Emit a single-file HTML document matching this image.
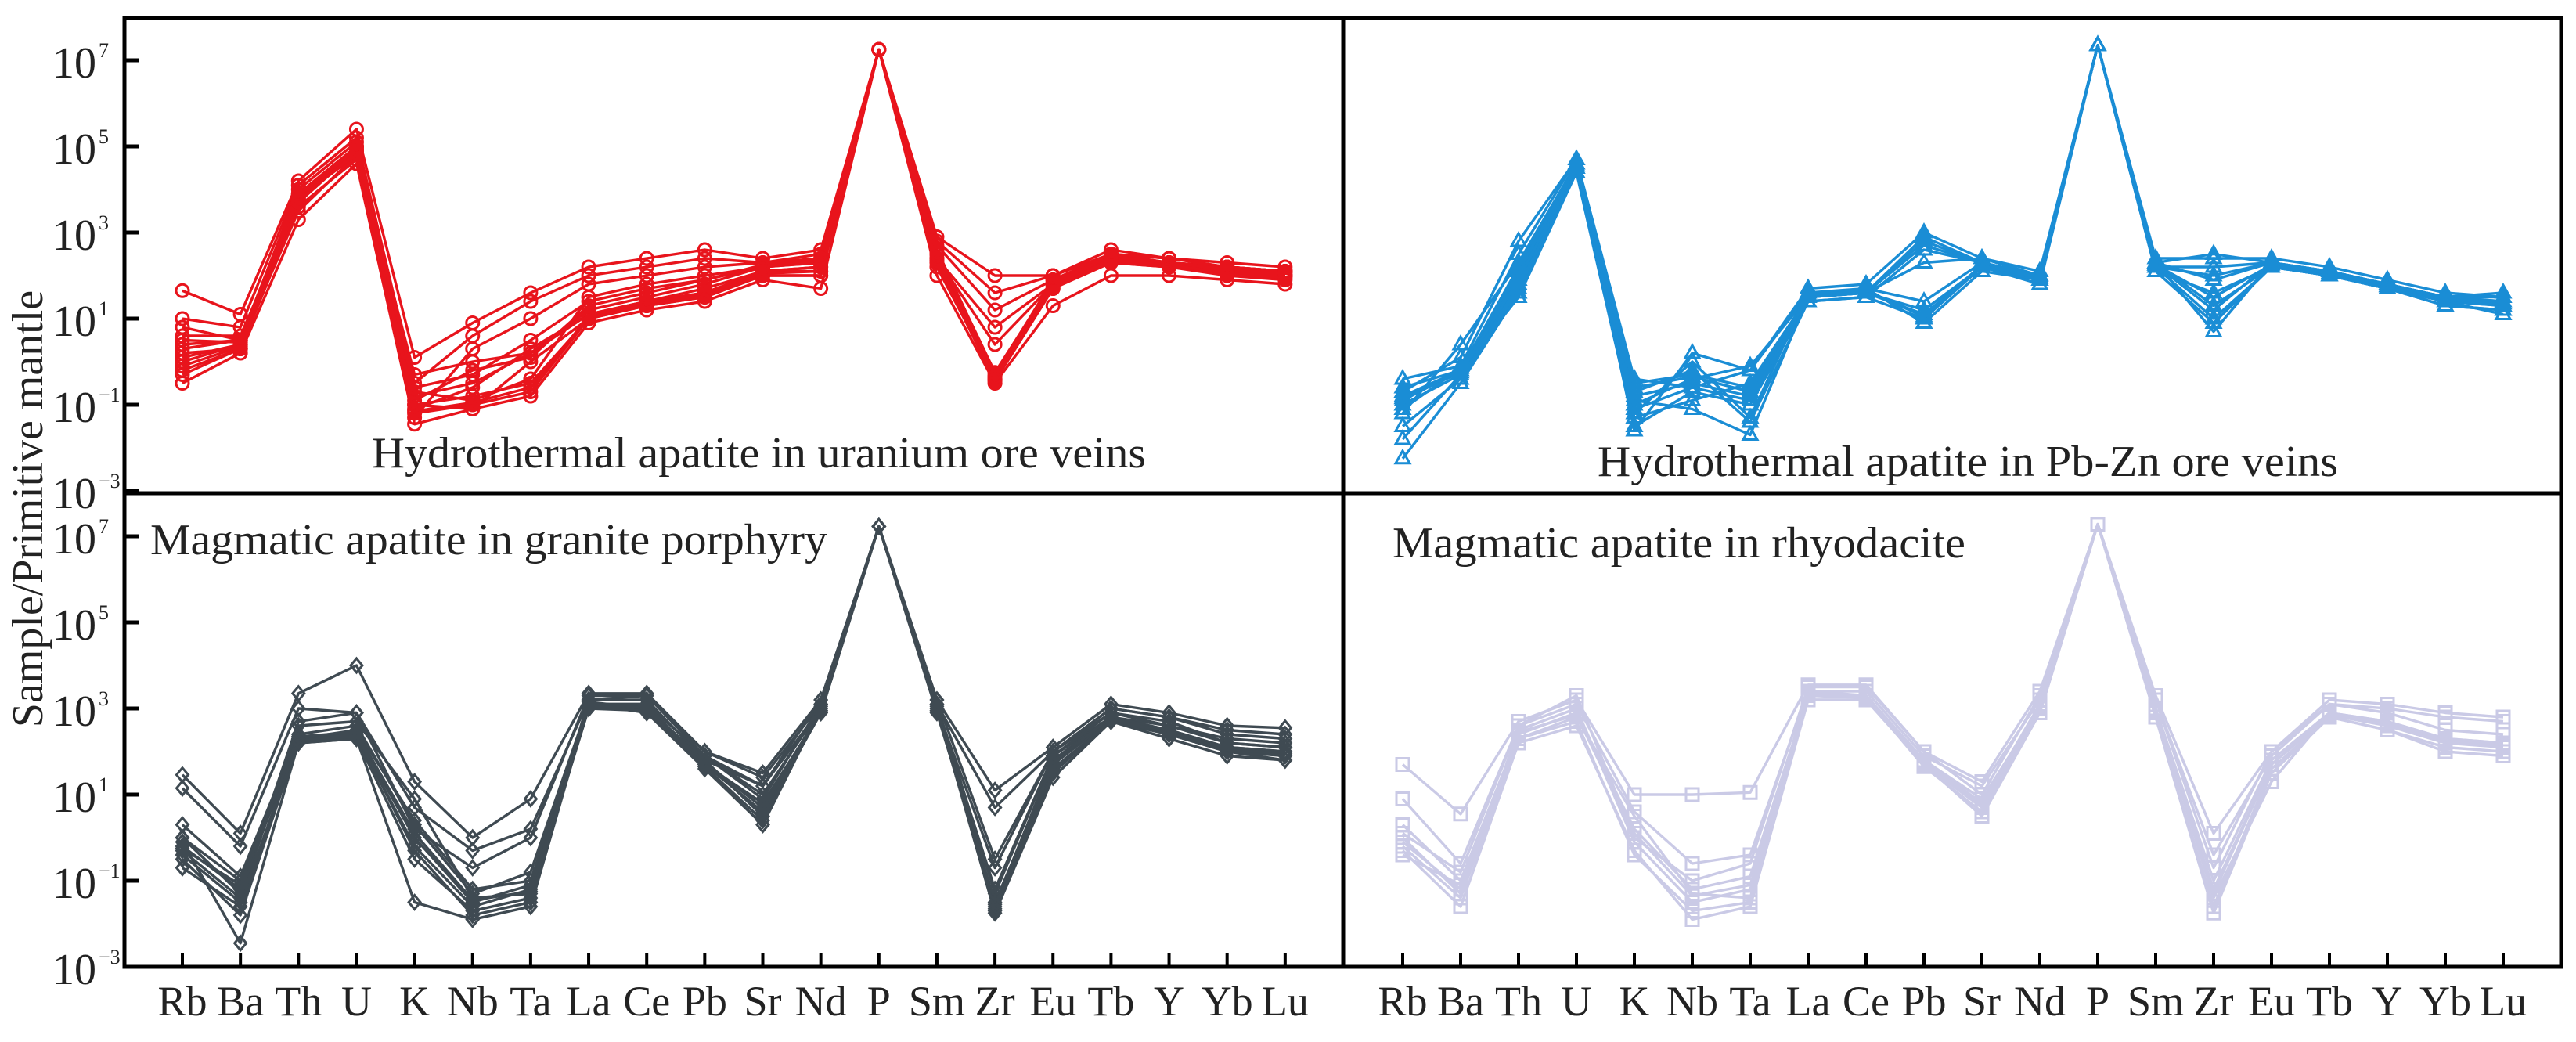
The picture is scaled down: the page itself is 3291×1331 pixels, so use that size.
<!DOCTYPE html>
<html><head><meta charset="utf-8"><style>
html,body{margin:0;padding:0;background:#fff;}
svg{display:block;font-family:"Liberation Serif","Times New Roman",serif;}
</style></head><body>
<svg id="chart" width="3291" height="1331" viewBox="0 0 3291 1331" xmlns="http://www.w3.org/2000/svg">
<rect x="0" y="0" width="3291" height="1331" fill="#fff"/>
<g id="marks"></g>
<g id="axes"></g>
<text x="0" y="0" transform="translate(54,650) rotate(-90)" text-anchor="middle" font-size="56" fill="#222">Sample/Primitive mantle</text>
<text x="475" y="597" font-size="56" fill="#222" textLength="989" lengthAdjust="spacingAndGlyphs">Hydrothermal apatite in uranium ore veins</text>
<text x="2041" y="608" font-size="56" fill="#222" textLength="946" lengthAdjust="spacingAndGlyphs">Hydrothermal apatite in Pb-Zn ore veins</text>
<text x="192" y="708" font-size="56" fill="#222" textLength="865" lengthAdjust="spacingAndGlyphs">Magmatic apatite in granite porphyry</text>
<text x="1779" y="712" font-size="56" fill="#222" textLength="732" lengthAdjust="spacingAndGlyphs">Magmatic apatite in rhyodacite</text>
</svg>
<script>
const categories = ["Rb","Ba","Th","U","K","Nb","Ta","La","Ce","Pb","Sr","Nd","P","Sm","Zr","Eu","Tb","Y","Yb","Lu"];
const yTickExponents = [7,5,3,1,-1,-3];
// log10 values (Sample/Primitive mantle)
const uraniumVeinsLog = [
[0,0.4,3.8,4.8,-1.0,-0.8,-0.5,1.0,1.4,1.6,2.1,2.2,7.25,2.5,-0.4,1.8,2.4,2.3,2.1,2.0],
[0.3,0.5,3.9,4.9,-0.8,-0.5,0.2,1.2,1.5,1.8,2.2,2.3,7.25,2.6,-0.3,1.9,2.5,2.3,2.2,2.1],
[-0.3,0.3,3.6,4.7,-1.2,-1.0,-0.7,1.0,1.3,1.5,2.0,2.0,7.25,2.3,-0.45,1.7,2.3,2.2,2.0,1.9],
[1.65,1.1,4.2,5.4,0.1,0.9,1.6,2.2,2.4,2.6,2.4,2.6,7.25,2.9,2.0,2.0,2.6,2.4,2.3,2.2],
[1.0,0.8,4.1,5.2,-0.5,0.6,1.4,2.0,2.2,2.4,2.3,2.5,7.25,2.8,1.6,2.0,2.5,2.4,2.2,2.1],
[0.6,0.6,3.7,5.0,-1.3,0.3,1.0,1.8,2.0,2.2,2.3,2.4,7.25,2.7,1.2,1.9,2.4,2.3,2.1,2.0],
[-0.5,0.2,3.3,4.6,-1.45,-1.1,-0.8,0.9,1.2,1.4,1.9,1.7,7.25,2.0,-0.5,1.3,2.0,2.0,1.9,1.8],
[0.1,0.4,3.5,4.8,-0.3,0,0.2,1.1,1.4,1.7,2.1,2.1,7.25,2.4,0.8,1.8,2.3,2.2,2.1,2.0],
[0.8,0.5,3.8,4.9,-0.9,-0.2,0.1,1.3,1.6,1.9,2.2,2.3,7.25,2.5,-0.35,1.9,2.5,2.3,2.2,2.1],
[-0.2,0.3,3.9,5.0,-1.1,-0.6,0.3,1.1,1.4,1.6,2.1,2.2,7.25,2.4,0.4,1.8,2.4,2.3,2.2,2.1],
[0.4,0.5,4.0,5.1,-0.7,-0.9,-0.4,1.5,1.8,2.0,2.2,2.4,7.25,2.6,-0.4,1.9,2.5,2.4,2.2,2.1],
[0.2,0.3,3.7,4.9,-1.0,-1.1,0.0,1.0,1.3,1.5,2.0,2.0,7.25,2.2,-0.35,1.7,2.4,2.3,2.1,2.0],
[-0.1,0.35,3.75,4.85,-1.15,-0.95,-0.6,1.05,1.35,1.55,2.05,2.1,7.25,2.35,-0.42,1.75,2.35,2.25,2.05,1.95],
[0.5,0.45,3.85,4.95,-0.6,-0.3,0.5,1.4,1.7,1.9,2.25,2.35,7.25,2.55,-0.25,1.85,2.45,2.3,2.15,2.05]
];
const pbZnVeinsLog = [
[-0.8,-0.2,2.0,4.5,-0.5,-0.3,-0.6,1.5,1.6,2.9,2.3,2.0,7.35,2.3,2.5,2.3,2.1,1.8,1.5,1.4],
[-1.0,-0.3,1.8,4.5,-0.8,-0.5,-0.8,1.5,1.6,2.7,2.3,2.0,7.35,2.2,2.2,2.3,2.0,1.8,1.4,1.3],
[-2.25,-0.5,1.6,4.4,-1.5,-0.7,-1.0,1.4,1.5,1.0,2.2,1.9,7.35,2.2,1.0,2.2,2.0,1.7,1.4,1.3],
[-0.4,-0.1,2.5,4.7,-1.6,0.2,-0.2,1.6,1.7,0.9,2.1,1.9,7.35,2.3,0.7,2.3,2.1,1.8,1.5,1.5],
[-1.5,-0.4,1.7,4.5,-0.9,-1.1,-1.7,1.5,1.6,1.2,2.2,2.0,7.35,2.1,1.6,2.2,2.0,1.7,1.3,1.2],
[-0.9,-0.2,2.2,4.6,-1.2,0.0,-1.3,1.6,1.6,2.3,2.4,2.0,7.35,2.3,1.9,2.3,2.1,1.8,1.5,1.4],
[-0.7,0.1,2.8,4.7,-0.4,-0.6,-0.2,1.7,1.8,3.0,2.4,2.1,7.35,2.4,2.4,2.4,2.2,1.9,1.6,1.5],
[-1.8,-0.3,1.9,4.5,-1.3,-0.9,-0.5,1.5,1.6,1.1,2.2,1.8,7.35,2.1,0.9,2.2,2.0,1.7,1.3,1.2],
[-1.2,0.4,2.3,4.6,-1.0,-0.4,-0.1,1.5,1.7,1.4,2.3,2.0,7.35,2.2,2.0,2.3,2.1,1.8,1.5,1.6],
[-0.6,-0.2,1.5,4.4,-0.7,-0.2,-1.4,1.4,1.5,2.6,2.3,1.9,7.35,2.3,1.3,2.2,2.0,1.7,1.4,1.1],
[-0.85,-0.25,1.9,4.5,-1.1,-0.6,-0.9,1.5,1.6,2.8,2.3,2.0,7.35,2.25,1.5,2.25,2.05,1.75,1.45,1.3],
[-1.1,-0.15,2.1,4.55,-0.6,-0.35,-0.7,1.55,1.65,1.05,2.25,1.95,7.35,2.25,1.2,2.3,2.05,1.8,1.45,1.35]
];
const granitePorphyryLog = [
[1.46,0.1,3.35,4.0,1.3,0,0.9,3.35,3.35,2.0,1.5,3.2,7.23,3.2,1.1,2.1,3.1,2.9,2.6,2.55],
[1.15,-0.2,3.0,2.9,0.7,-0.3,0.2,3.2,3.3,2.0,1.4,3.1,7.23,3.1,0.7,2.0,3.0,2.8,2.5,2.4],
[0.3,-0.9,2.4,2.6,0.3,-1.3,-0.8,3.1,3.1,1.9,1.0,3.0,7.23,3.0,-1.2,1.9,2.8,2.6,2.3,2.2],
[-0.2,-1.2,2.3,2.4,0.0,-1.5,-1.1,3.0,3.0,1.8,0.5,2.9,7.23,2.95,-1.6,1.8,2.8,2.5,2.1,2.0],
[-0.7,-1.6,2.2,2.3,-1.5,-1.9,-1.6,3.1,2.9,1.6,0.3,3.0,7.23,3.0,-1.75,1.4,2.7,2.4,2.0,1.8],
[-0.1,-2.45,2.2,2.3,-0.5,-1.7,-1.4,3.0,3.0,1.7,0.8,2.9,7.23,2.9,-1.5,1.6,2.7,2.3,1.9,1.8],
[0.0,-1.0,2.3,2.5,0.4,-1.2,-1.0,3.1,3.1,1.9,0.9,3.1,7.23,3.1,-1.3,1.9,2.9,2.7,2.2,2.1],
[-0.3,-1.4,2.6,2.7,0.9,-1.4,-1.3,3.2,3.2,1.8,1.2,3.0,7.23,3.0,-0.7,2.0,2.9,2.6,2.2,2.1],
[-0.5,-1.8,2.25,2.35,-0.2,-1.6,-1.2,3.0,2.95,1.7,0.6,2.95,7.23,3.0,-1.7,1.7,2.75,2.4,2.0,1.9],
[0.0,-1.3,2.7,2.9,0.2,-0.7,0.0,3.3,3.3,1.9,1.2,3.2,7.23,3.2,-0.5,2.0,3.0,2.8,2.4,2.3],
[-0.25,-1.1,2.35,2.45,0.1,-1.45,-1.25,3.05,3.05,1.75,0.7,2.95,7.23,3.05,-1.55,1.75,2.8,2.5,2.1,2.0],
[-0.4,-1.5,2.25,2.4,-0.3,-1.8,-1.5,3.15,3.0,1.65,0.4,3.05,7.23,2.95,-1.65,1.5,2.75,2.45,2.05,1.95]
];
const rhyodaciteLog = [
[1.7,0.55,2.7,3.2,1.0,1.0,1.05,3.55,3.55,2.0,1.3,3.4,7.28,3.3,0.1,2.0,3.2,3.1,2.9,2.8],
[0.9,-0.6,2.6,3.1,0.6,-0.6,-0.4,3.4,3.4,1.9,1.2,3.2,7.28,3.2,-0.4,1.9,3.1,3.0,2.8,2.7],
[0.3,-1.0,2.4,2.9,0.2,-1.2,-0.9,3.3,3.3,1.8,0.9,3.0,7.28,3.0,-1.0,1.8,2.9,2.7,2.3,2.2],
[-0.3,-1.6,2.2,2.6,-0.3,-1.9,-1.6,3.2,3.2,1.7,0.5,2.9,7.28,2.8,-1.75,1.5,2.8,2.5,2.1,2.0],
[0.0,-1.3,2.5,3.0,-0.1,-1.5,-1.2,3.4,3.3,1.8,0.8,3.1,7.28,3.0,-1.4,1.3,2.9,2.7,2.3,2.2],
[-0.4,-1.1,2.3,2.8,0.5,-1.3,-1.4,3.3,3.25,1.65,0.6,3.0,7.28,2.9,-1.2,1.7,2.85,2.6,2.2,2.1],
[0.1,-0.8,2.6,3.3,0.0,-1.0,-0.6,3.5,3.5,2.0,1.0,3.3,7.28,3.2,-0.7,2.0,3.1,2.9,2.5,2.4],
[-0.2,-1.4,2.3,2.7,-0.4,-1.7,-1.5,3.2,3.2,1.7,0.7,2.9,7.28,2.8,-1.6,1.6,2.8,2.5,2.0,1.9],
[-0.1,-1.2,2.45,2.85,0.1,-1.35,-1.1,3.35,3.3,1.75,0.75,3.05,7.28,2.95,-1.3,1.7,2.9,2.65,2.25,2.15]
];

const NS = "http://www.w3.org/2000/svg";
const marks = document.getElementById("marks");
const axes = document.getElementById("axes");
function mk(tag, attrs, parent){const e=document.createElementNS(NS,tag);for(const k in attrs)e.setAttribute(k,attrs[k]);parent.appendChild(e);return e;}
function xLeft(i){return 233 + i*74.15;}
function xRight(i){return 1792 + i*74.0;}
function yTop(v){return 77 + (7 - v)*55;}
function yBottom(v){return 685 + (7 - v)*55;}

function marker(kind, x, y, color, g){
  let e;
  if(kind==="circle"){e=mk("circle",{cx:x,cy:y,r:8},g);}
  else if(kind==="tri"){e=mk("polygon",{points:`${x},${y-10} ${x-9},${y+6} ${x+9},${y+6}`},g);}
  else if(kind==="diamond"){e=mk("polygon",{points:`${x},${y-9} ${x+7.5},${y} ${x},${y+9} ${x-7.5},${y}`},g);}
  else {e=mk("rect",{x:x-8,y:y-8,width:16,height:16},g);}
  e.setAttribute("fill","none");e.setAttribute("stroke",color);e.setAttribute("stroke-width","3");
  
  
}
function drawPanel(data, xf, yf, color, kind, name){
  const g = mk("g",{},marks);
  
  
  data.forEach(function(s){
    const pts = s.map((v,i)=>xf(i).toFixed(1)+","+yf(v).toFixed(1)).join(" ");
    const pl = mk("polyline",{points:pts,fill:"none",stroke:color,"stroke-width":3.4,"stroke-linejoin":"round"},g);
    
    
  });
  data.forEach(function(s){ s.forEach((v,i)=>marker(kind,xf(i),yf(v),color,g)); });
}
drawPanel(uraniumVeinsLog, xLeft, yTop, "#e8141c", "circle", "uranium-vein-series");
drawPanel(pbZnVeinsLog, xRight, yTop, "#1a8dd5", "tri", "pbzn-vein-series");
drawPanel(granitePorphyryLog, xLeft, yBottom, "#3f4a52", "diamond", "granite-porphyry-series");
drawPanel(rhyodaciteLog, xRight, yBottom, "#cacae6", "square", "rhyodacite-series");

const frame = mk("rect",{x:159,y:23,width:3113,height:1212,fill:"none",stroke:"#000","stroke-width":5},axes);


const hdiv = mk("line",{x1:159,y1:630,x2:3272,y2:630,stroke:"#000","stroke-width":5},axes);


const vdiv = mk("line",{x1:1716,y1:23,x2:1716,y2:1235,stroke:"#000","stroke-width":5},axes);



[yTop, yBottom].forEach(function(yf){
  yTickExponents.forEach(function(e){
    const y = yf(e);
    const t = mk("line",{x1:159,y1:y,x2:178,y2:y,stroke:"#000","stroke-width":5},axes);
    
    
    const lab = mk("text",{x:123,y:y+22,"text-anchor":"end","font-size":56,fill:"#222"},axes);
    lab.textContent = "10";
    
    
    const sup = mk("text",{x:126,y:y-4,"font-size":26,fill:"#222"},axes);
    sup.textContent = e<0 ? "\u2212"+Math.abs(e) : String(e);
    
    
  });
});
[xLeft, xRight].forEach(function(xf){
  categories.forEach(function(c,i){
    const x = xf(i);
    const t = mk("line",{x1:x,y1:1235,x2:x,y2:1217,stroke:"#000","stroke-width":4},axes);
    
    
    const lab = mk("text",{x:x,y:1297,"text-anchor":"middle","font-size":54,fill:"#222"},axes);
    lab.textContent = c;
    
    
  });
});
</script>
</body></html>
